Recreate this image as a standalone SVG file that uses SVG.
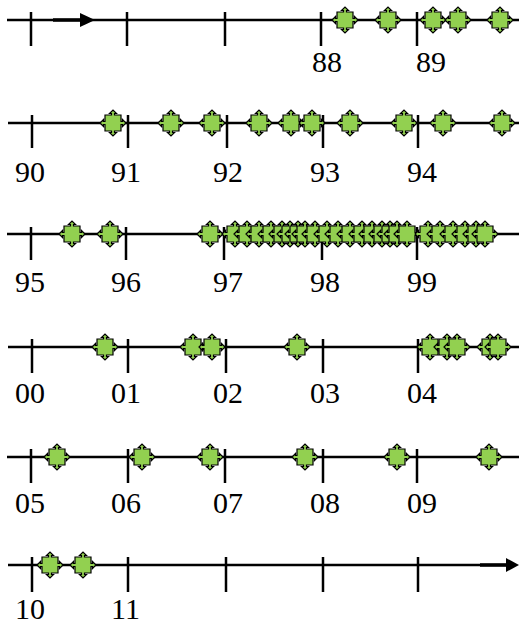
<svg xmlns="http://www.w3.org/2000/svg" width="519" height="624" viewBox="0 0 519 624">
<style>
.ax{stroke:#000;stroke-width:2.5;fill:none}
.tk{stroke:#000;stroke-width:2.5}
.mk{fill:#92D050;stroke:#000;stroke-width:1.2;stroke-linejoin:miter}
</style>
<defs>
<path id="m" class="mk" d="M-8,-8 L-1.5,-8 L-1.5,-9.5 L-3.5,-9.5 L0,-13 L3.5,-9.5 L1.5,-9.5 L1.5,-8 L8,-8 L8,-1.5 L9.5,-1.5 L9.5,-3.5 L13,0 L9.5,3.5 L9.5,1.5 L8,1.5 L8,8 L1.5,8 L1.5,9.5 L3.5,9.5 L0,13 L-3.5,9.5 L-1.5,9.5 L-1.5,8 L-8,8 L-8,1.5 L-9.5,1.5 L-9.5,3.5 L-13,0 L-9.5,-3.5 L-9.5,-1.5 L-8,-1.5 Z"/>
</defs>
<rect width="519" height="624" fill="#fff"/>
<g id="connectors">
<line class="ax" x1="7" y1="20" x2="519" y2="20"/>
<line x1="53" y1="20" x2="82" y2="20" stroke="#000" stroke-width="3.5"/>
<polygon points="80,13 95,20 80,27" fill="#000"/>
<line class="ax" x1="8" y1="123" x2="519" y2="123"/>
<line class="ax" x1="7" y1="234" x2="519" y2="234"/>
<line class="ax" x1="8" y1="347" x2="519" y2="347"/>
<line class="ax" x1="7" y1="457" x2="519" y2="457"/>
<line class="ax" x1="8" y1="565" x2="508" y2="565"/>
<line x1="480" y1="565" x2="508" y2="565" stroke="#000" stroke-width="3.5"/>
<polygon points="506,558 519,565 506,572" fill="#000"/>
</g>
<g id="ticks">
<g class="tk">
<line x1="31" y1="12" x2="31" y2="46"/><line x1="127" y1="12" x2="127" y2="46"/><line x1="225" y1="12" x2="225" y2="46"/><line x1="321" y1="12" x2="321" y2="46"/><line x1="417" y1="12" x2="417" y2="46"/>
<line x1="32" y1="115" x2="32" y2="148"/><line x1="128" y1="115" x2="128" y2="148"/><line x1="227" y1="115" x2="227" y2="148"/><line x1="323" y1="115" x2="323" y2="148"/><line x1="418" y1="115" x2="418" y2="148"/>
<line x1="31" y1="227" x2="31" y2="260"/><line x1="126" y1="227" x2="126" y2="260"/><line x1="224" y1="227" x2="224" y2="260"/><line x1="322" y1="227" x2="322" y2="260"/><line x1="417" y1="227" x2="417" y2="260"/>
<line x1="32" y1="339" x2="32" y2="373"/><line x1="128" y1="339" x2="128" y2="373"/><line x1="226" y1="339" x2="226" y2="373"/><line x1="323" y1="339" x2="323" y2="373"/><line x1="418" y1="339" x2="418" y2="373"/>
<line x1="31" y1="449" x2="31" y2="483"/><line x1="128" y1="449" x2="128" y2="483"/><line x1="225" y1="449" x2="225" y2="483"/><line x1="323" y1="449" x2="323" y2="483"/><line x1="417" y1="449" x2="417" y2="483"/>
<line x1="32" y1="557" x2="32" y2="592"/><line x1="128" y1="557" x2="128" y2="592"/><line x1="226" y1="557" x2="226" y2="592"/><line x1="323" y1="557" x2="323" y2="592"/><line x1="418" y1="557" x2="418" y2="592"/>
</g>
</g>
<g id="labels" font-family="Liberation Serif, Times New Roman, serif" font-size="30" fill="#000">
<text x="312" y="72">88</text><text x="416" y="72">89</text>
<text x="15" y="182">90</text><text x="111" y="182">91</text><text x="213" y="182">92</text><text x="310" y="182">93</text><text x="407" y="182">94</text>
<text x="15" y="292">95</text><text x="111" y="292">96</text><text x="213" y="292">97</text><text x="310" y="292">98</text><text x="407" y="292">99</text>
<text x="15" y="403">00</text><text x="111" y="403">01</text><text x="213" y="403">02</text><text x="310" y="403">03</text><text x="407" y="403">04</text>
<text x="15" y="513">05</text><text x="111" y="513">06</text><text x="213" y="513">07</text><text x="310" y="513">08</text><text x="407" y="513">09</text>
<text x="15" y="619">10</text><text x="111" y="619">11</text>
</g>
<g id="row1">
<use id="n88a" href="#m" x="345" y="20"/><use id="n88b" href="#m" x="388" y="20"/><use id="n89a" href="#m" x="433" y="20"/><use id="n89b" href="#m" x="458" y="20"/><use id="n89c" href="#m" x="500" y="20"/>
</g>
<g id="row2">
<use href="#m" x="113" y="123"/><use href="#m" x="171" y="123"/><use href="#m" x="212" y="123"/><use href="#m" x="259" y="123"/><use href="#m" x="291" y="123"/><use href="#m" x="312" y="123"/><use href="#m" x="350" y="123"/><use href="#m" x="404" y="123"/><use href="#m" x="443" y="123"/><use href="#m" x="502" y="123"/>
</g>
<g id="row3">
<use href="#m" x="72" y="234"/><use href="#m" x="110" y="234"/><use href="#m" x="210" y="234"/>
<use href="#m" x="235" y="234"/><use href="#m" x="247" y="234"/><use href="#m" x="259" y="234"/><use href="#m" x="271" y="234"/><use href="#m" x="282" y="234"/><use href="#m" x="290" y="234"/><use href="#m" x="298" y="234"/><use href="#m" x="305" y="234"/><use href="#m" x="315" y="234"/><use href="#m" x="327" y="234"/><use href="#m" x="338" y="234"/><use href="#m" x="350" y="234"/><use href="#m" x="362" y="234"/><use href="#m" x="372" y="234"/><use href="#m" x="382" y="234"/><use href="#m" x="390" y="234"/><use href="#m" x="397" y="234"/><use href="#m" x="407" y="234"/>
<use href="#m" x="428" y="234"/><use href="#m" x="440" y="234"/><use href="#m" x="453" y="234"/><use href="#m" x="465" y="234"/><use href="#m" x="476" y="234"/><use href="#m" x="485" y="234"/>
</g>
<g id="row4">
<use href="#m" x="105" y="347"/><use href="#m" x="193" y="347"/><use href="#m" x="212" y="347"/><use href="#m" x="297" y="347"/><use href="#m" x="430" y="347"/><use href="#m" x="447" y="347"/><use href="#m" x="457" y="347"/><use href="#m" x="490" y="347"/><use href="#m" x="498" y="347"/>
</g>
<g id="row5">
<use href="#m" x="57" y="457"/><use href="#m" x="142" y="457"/><use href="#m" x="210" y="457"/><use href="#m" x="305" y="457"/><use href="#m" x="397" y="457"/><use href="#m" x="489" y="457"/>
</g>
<g id="row6">
<use href="#m" x="50" y="565"/><use href="#m" x="83" y="565"/>
</g>
</svg>
